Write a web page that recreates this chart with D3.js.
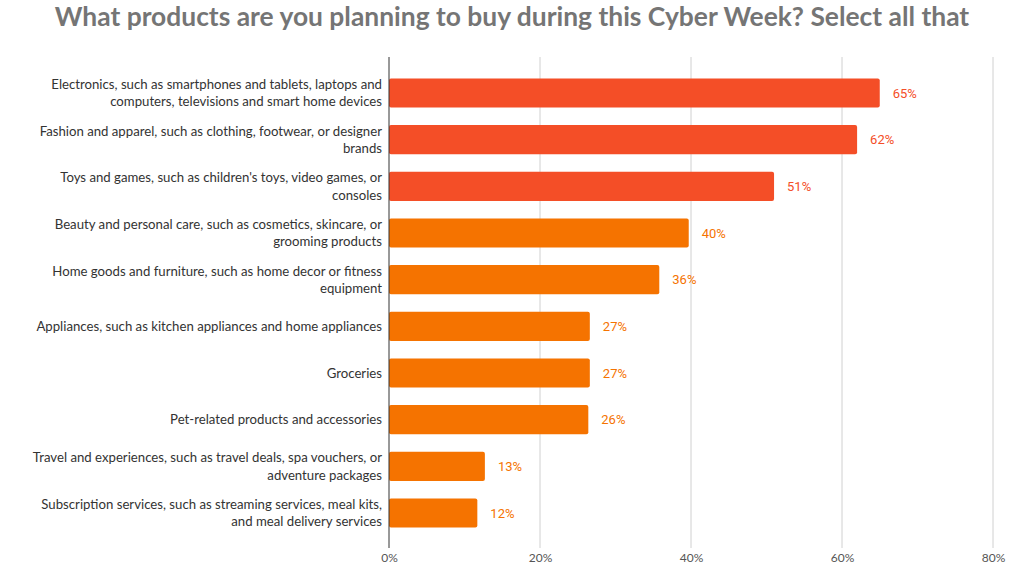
<!DOCTYPE html>
<html><head><meta charset="utf-8">
<script src="https://cdn.jsdelivr.net/npm/d3@7"></script>
<style>body{margin:0;background:#fff;}svg{display:block;}</style>
</head><body>
<svg id="c" width="1024" height="569"></svg>
<script>
const title = "What products are you planning to buy during this Cyber Week? Select all that";
const categories = [
  ["Electronics, such as smartphones and tablets, laptops and","computers, televisions and smart home devices"],
  ["Fashion and apparel, such as clothing, footwear, or designer","brands"],
  ["Toys and games, such as children's toys, video games, or","consoles"],
  ["Beauty and personal care, such as cosmetics, skincare, or","grooming products"],
  ["Home goods and furniture, such as home decor or fitness","equipment"],
  ["Appliances, such as kitchen appliances and home appliances"],
  ["Groceries"],
  ["Pet-related products and accessories"],
  ["Travel and experiences, such as travel deals, spa vouchers, or","adventure packages"],
  ["Subscription services, such as streaming services, meal kits,","and meal delivery services"]
];
const values = [65, 62, 51, 39.7, 35.8, 26.6, 26.6, 26.4, 12.7, 11.7];
const valueLabels = ["65%","62%","51%","40%","36%","27%","27%","26%","13%","12%"];
const groups = ["top","top","top","other","other","other","other","other","other","other"];
const ticks = [0, 20, 40, 60, 80];

const colors = {top:"#F44E27", other:"#F57300"};
const svg = d3.select("#c");
const x = d3.scaleLinear().domain([0,80]).range([389,993]);
const y = d3.scaleBand().domain(d3.range(categories.length)).range([69.7,536.3]).paddingInner(0.375).paddingOuter(0.1875);

// gridlines
svg.append("g").selectAll("line").data(ticks.slice(1)).join("line")
  .attr("x1",d=>x(d)).attr("x2",d=>x(d)).attr("y1",57).attr("y2",548)
  .attr("stroke","#d0d0d0").attr("stroke-width",1);

// bars
svg.append("g").selectAll("rect").data(values).join("rect")
  .attr("x",x(0)).attr("y",(d,i)=>y(i)).attr("width",d=>x(d)-x(0)).attr("height",y.bandwidth())
  .attr("rx",2)
  .attr("fill",(d,i)=>colors[groups[i]]);

// axis line
svg.append("line").attr("x1",x(0)).attr("x2",x(0)).attr("y1",57).attr("y2",548)
  .attr("stroke","#333").attr("stroke-width",1);

// value labels
svg.append("g").selectAll("text").data(values).join("text")
  .attr("x",d=>x(d)+13).attr("y",(d,i)=>y(i)+y.bandwidth()/2)
  .attr("dy","0.35em")
  .attr("font-family","Roboto, sans-serif").attr("font-size",13)
  .attr("fill",(d,i)=>colors[groups[i]])
  .text((d,i)=>valueLabels[i]);

// tick labels
const xAxis = d3.axisBottom(x).tickValues(ticks).tickFormat(d=>d+"%").tickSize(0);
const ax = svg.append("g").attr("transform","translate(0,548)").call(xAxis);
ax.select(".domain").remove();
ax.selectAll("text").attr("font-family","Lato, sans-serif").attr("font-size",12).attr("fill","#555").attr("dy","0.95em");

// category labels
const lineH = 17.5;
const cg = svg.append("g");
categories.forEach((lines,i)=>{
  const cy = y(i)+y.bandwidth()/2;
  const t = cg.append("text").attr("text-anchor","end")
    .attr("font-family","Lato, sans-serif").attr("font-size",13.2).attr("fill","#333");
  lines.forEach((ln,j)=>{
    t.append("tspan").attr("x",382).attr("y",cy + (j-(lines.length-1)/2)*lineH).attr("dy","0.35em").text(ln);
  });
});

// title
const tt = svg.append("text").attr("x",512).attr("y",26).attr("text-anchor","middle")
  .attr("font-family","Lato, sans-serif").attr("font-weight","bold").attr("font-size",24)
  .attr("fill","#757575").text(title);
const w = tt.node().getComputedTextLength();
tt.attr("font-size", 24*915/w);
</script>
</body></html>
